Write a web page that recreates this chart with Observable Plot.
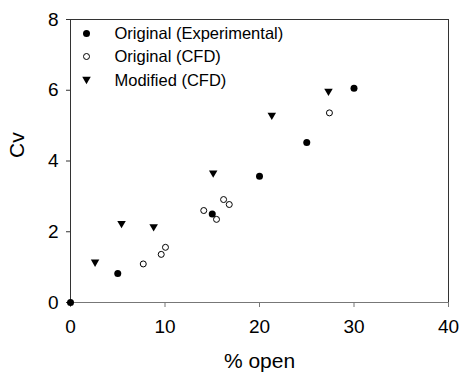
<!DOCTYPE html>
<html>
<head>
<meta charset="utf-8">
<script src="https://cdn.jsdelivr.net/npm/d3@7"></script>
<script src="https://cdn.jsdelivr.net/npm/@observablehq/plot@0.6"></script>
<style>
  html, body { margin: 0; padding: 0; background: #fff; }
</style>
</head>
<body>
<div id="chart"></div>
<script>
// Data
const expX = [0, 5, 15, 20, 25, 30];
const expY = [0, 0.82, 2.5, 3.57, 4.52, 6.06];
const cfdX = [7.7, 9.6, 10.05, 14.1, 15.45, 16.2, 16.8, 27.4];
const cfdY = [1.09, 1.36, 1.56, 2.6, 2.35, 2.91, 2.77, 5.36];
const modX = [2.6, 5.4, 8.8, 15.1, 21.3, 27.3];
const modY = [1.11, 2.2, 2.11, 3.63, 5.26, 5.94];
const xTicks = [0, 10, 20, 30, 40];
const yTicks = [0, 2, 4, 6, 8];
const legendLabels = ["Original (Experimental)", "Original (CFD)", "Modified (CFD)"];
const xTitle = "% open";
const yTitle = "Cv";

const toRows = (xs, ys) => xs.map((x, i) => ({x, y: ys[i]}));
const exp = toRows(expX, expY);
const cfd = toRows(cfdX, cfdY);
const mod = toRows(modX, modY);

const triangleDown = {
  draw(context, size) {
    const s = Math.sqrt(size);
    const w = s * 0.6, h = s * 0.52;
    context.moveTo(-w, -h);
    context.lineTo(w, -h);
    context.lineTo(0, h);
    context.closePath();
  }
};

const legendRows = [14, 37, 61];
const legendMarks = [];
const legendStyles = [
  {symbol: "circle", fill: "black", stroke: "none", r: 3.5},
  {symbol: "circle", fill: "white", stroke: "black", r: 3, strokeWidth: 1},
  {symbol: triangleDown, fill: "black", stroke: "none", r: 4}
];
legendLabels.forEach((label, i) => {
  legendMarks.push(Plot.dot([label], {frameAnchor: "top-left", dx: 16, dy: legendRows[i], ...legendStyles[i]}));
  legendMarks.push(Plot.text([label], {frameAnchor: "top-left", dx: 44, dy: legendRows[i], text: d => d,
    textAnchor: "start", lineAnchor: "middle", fontSize: 16.5, fill: "black"}));
});

const chart = Plot.plot({
  width: 461,
  height: 377,
  marginLeft: 70,
  marginRight: 13,
  marginTop: 19,
  marginBottom: 75,
  style: {fontFamily: "'Liberation Sans', Arial, sans-serif", fontSize: "19px", color: "black", background: "white"},
  x: {domain: [0, 40], ticks: xTicks},
  y: {domain: [0, 8], ticks: yTicks},
  marks: [
    Plot.frame({stroke: "#333"}),
    Plot.ruleY([0], {stroke: "#777"}),
    Plot.axisX({ticks: xTicks, tickSize: 5, tickPadding: 12, fontSize: 19, stroke: "#777", label: null}),
    Plot.axisY({ticks: yTicks, tickSize: 4, tickPadding: 8, fontSize: 19, stroke: "#333", label: null}),
    Plot.text([xTitle], {frameAnchor: "bottom", dy: 59, text: d => d, fontSize: 21, lineAnchor: "middle", fill: "black"}),
    Plot.text([yTitle], {frameAnchor: "left", dx: -53, dy: -3, rotate: -90, text: d => d, fontSize: 21, lineAnchor: "middle", fill: "black"}),
    Plot.dot(cfd, {x: "x", y: "y", symbol: "circle", r: 3, fill: "white", stroke: "black", strokeWidth: 1}),
    Plot.dot(mod, {x: "x", y: "y", symbol: triangleDown, r: 4, fill: "black", stroke: "none"}),
    Plot.dot(exp, {x: "x", y: "y", symbol: "circle", r: 3.5, fill: "black", stroke: "none"}),
    ...legendMarks
  ]
});
document.getElementById("chart").appendChild(chart);
</script>
</body>
</html>
